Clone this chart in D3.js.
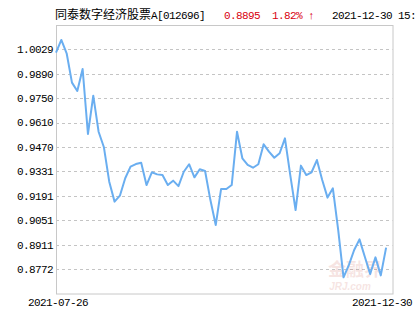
<!DOCTYPE html>
<html>
<head>
<meta charset="utf-8">
<script src="https://cdn.jsdelivr.net/npm/d3@7"></script>
<style>
  body { margin: 0; background: #fff; }
  svg { display: block; }
</style>
</head>
<body>
<div id="chart"></div>
<script>
// fund NAV line, 2021-07-26 .. 2021-12-30
const fundName = "同泰数字经济股票";
const fundCode = "A[012696]";
const lastValue = "0.8895";
const lastChange = "1.82% ↑";
const lastTime = "2021-12-30 15:00";
const startDate = "2021-07-26", endDate = "2021-12-30";

const yTicks = [0.8772, 0.8911, 0.9051, 0.9191, 0.9331, 0.9470, 0.9610, 0.9750, 0.9890, 1.0029];
const navValues = [
  1.0010, 1.0083, 1.0007, 0.9839, 0.9791, 0.9917, 0.9545, 0.9764, 0.9558, 0.9469,
  0.9272, 0.9158, 0.9192, 0.9292, 0.9358, 0.9373, 0.9381, 0.9253, 0.9326, 0.9314,
  0.9310, 0.9253, 0.9278, 0.9247, 0.9329, 0.9372, 0.9297, 0.9343, 0.9333, 0.9167,
  0.9024, 0.9230, 0.9230, 0.9253, 0.9558, 0.9406, 0.9368, 0.9352, 0.9372, 0.9486,
  0.9444, 0.9409, 0.9435, 0.9520, 0.9310, 0.9110, 0.9364, 0.9310, 0.9326, 0.9396,
  0.9282, 0.9181, 0.9234, 0.8996, 0.8725, 0.8795, 0.8881, 0.8942, 0.8843, 0.8744,
  0.8839, 0.8736, 0.8895
];

const width = 415, height = 330;
const plotLeft = 56, plotRight = 392.5, plotTop = 25, plotBottom = 293.5;
const mono = "'Liberation Mono', 'DejaVu Sans Mono', monospace";

const svg = d3.select("#chart").append("svg")
  .attr("width", width).attr("height", height);

const step = (yTicks[yTicks.length - 1] - yTicks[0]) / (yTicks.length - 1);
const y = d3.scaleLinear()
  .domain([yTicks[0] - step, yTicks[yTicks.length - 1] + step])
  .range([plotBottom, plotTop]);
const x = d3.scaleLinear()
  .domain([0, navValues.length + 0.2])
  .range([plotLeft, plotRight]);

// grid
svg.append("g").selectAll("line")
  .data(yTicks)
  .enter().append("line")
    .attr("x1", plotLeft).attr("x2", plotRight)
    .attr("y1", d => Math.round(y(d)) + 0.5).attr("y2", d => Math.round(y(d)) + 0.5)
    .attr("stroke", "#c4c4c4")
    .attr("stroke-dasharray", "3,3");

// box
svg.append("rect")
  .attr("x", plotLeft + 0.5).attr("y", plotTop + 0.5)
  .attr("width", plotRight - plotLeft).attr("height", plotBottom - plotTop)
  .attr("fill", "none")
  .attr("stroke", "#c8c8c8");

// watermark
const wm = svg.append("g").attr("opacity", 0.13).attr("fill", "#c0392b");
wm.append("text")
  .attr("x", 355).attr("y", 276)
  .attr("text-anchor", "middle")
  .style("font-family", "'Noto Sans CJK SC'").style("font-size", "18px")
  .style("font-weight", "bold")
  .text("金融界");
wm.append("text")
  .attr("x", 350).attr("y", 290)
  .attr("text-anchor", "middle")
  .style("font-family", "Arial, sans-serif").style("font-size", "10px")
  .style("font-style", "italic").style("font-weight", "bold")
  .text("JRJ.com");

// y labels
svg.append("g").selectAll("text")
  .data(yTicks)
  .enter().append("text")
    .attr("x", 53).attr("y", d => y(d))
    .attr("dy", "0.35em")
    .attr("text-anchor", "end")
    .style("font-family", mono).style("font-size", "11px")
    .style("letter-spacing", "-0.6px")
    .attr("fill", "#000")
    .text(d => d.toFixed(4));

// line
const line = d3.line()
  .x((d, i) => x(i))
  .y(d => y(d));

svg.append("path")
  .datum(navValues)
  .attr("d", line)
  .attr("fill", "none")
  .attr("stroke", "#6aaef0")
  .attr("stroke-width", 2)
  .attr("stroke-linejoin", "round");

// x labels
svg.append("text")
  .attr("x", 58).attr("y", 306)
  .attr("text-anchor", "middle")
  .style("font-family", mono).style("font-size", "11px")
  .style("letter-spacing", "-0.6px")
  .text(startDate);
svg.append("text")
  .attr("x", 382).attr("y", 306)
  .attr("text-anchor", "middle")
  .style("font-family", mono).style("font-size", "11px")
  .style("letter-spacing", "-0.6px")
  .text(endDate);

// header
const head = svg.append("text").attr("x", 55).attr("y", 19);
head.append("tspan")
  .style("font-family", "'Noto Sans CJK SC'").style("font-size", "12px")
  .text(fundName);
head.append("tspan")
  .style("font-family", mono).style("font-size", "11px")
  .style("letter-spacing", "-0.6px")
  .text(fundCode);

svg.append("text")
  .attr("x", 224).attr("y", 19)
  .style("font-family", mono).style("font-size", "11px")
  .style("letter-spacing", "-0.6px")
  .attr("fill", "#d8000f")
  .text(lastValue);
svg.append("text")
  .attr("x", 272).attr("y", 19)
  .style("font-family", mono).style("font-size", "11px")
  .style("letter-spacing", "-0.6px")
  .attr("fill", "#d8000f")
  .text(lastChange);
svg.append("text")
  .attr("x", 332).attr("y", 19)
  .style("font-family", mono).style("font-size", "11px")
  .style("letter-spacing", "-0.6px")
  .text(lastTime);
</script>
</body>
</html>
